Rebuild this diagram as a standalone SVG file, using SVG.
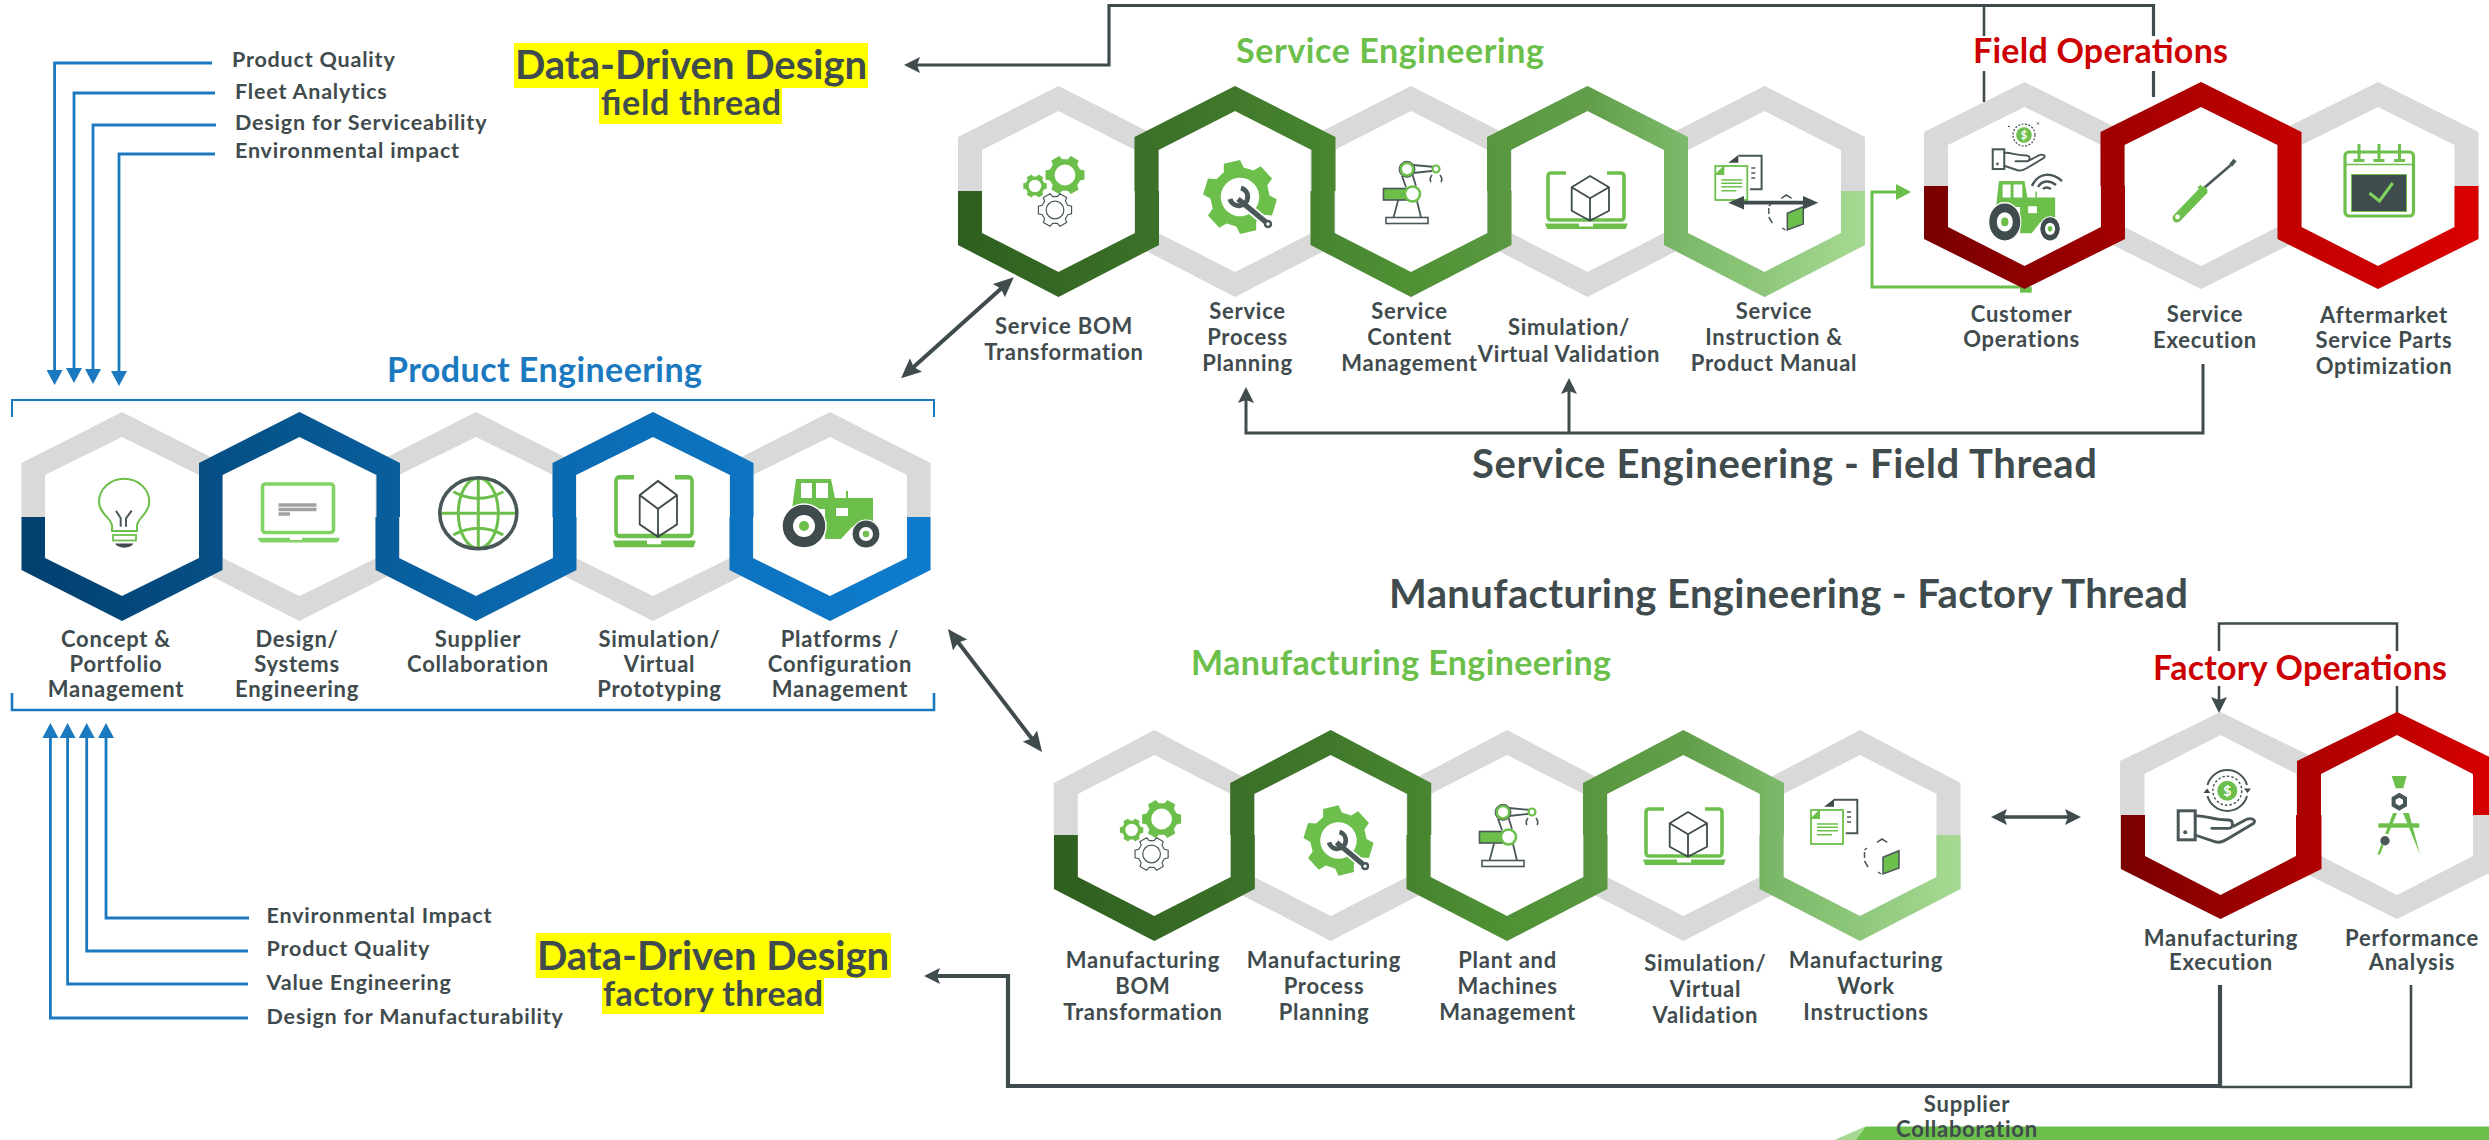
<svg xmlns="http://www.w3.org/2000/svg" width="2489" height="1140" viewBox="0 0 2489 1140">
<style>
text{font-family:"Lato","Liberation Sans",sans-serif;font-weight:700;fill:#3f4b4d}
.lb{font-size:22px;text-anchor:middle;letter-spacing:.75px}
.li{font-size:21.5px;letter-spacing:.8px}
.h2{font-size:34px}
.h1{font-size:40px}
.dd{font-size:40px;text-anchor:middle}
.ds{font-size:34px;text-anchor:middle}
.grey{fill:#d9d9d9;fill-rule:evenodd}
.dk{fill:none;stroke:#3f4b4d}
.blue{fill:none;stroke:#1b7abf}
.gl{fill:none;stroke:#6cbf4b}
.dl{fill:none;stroke:#4a5759}
.gf{fill:#6cbf4b}
.df{fill:#3f4b4d}
.wf{fill:#fff}
</style>
<defs>
<linearGradient id="gB" gradientUnits="userSpaceOnUse" x1="21" y1="0" x2="931" y2="0"><stop offset="0" stop-color="#023f6e"/><stop offset=".3" stop-color="#06568f"/><stop offset=".5" stop-color="#0a65a8"/><stop offset=".7" stop-color="#0b70bb"/><stop offset="1" stop-color="#0e7cce"/></linearGradient>
<linearGradient id="gS" gradientUnits="userSpaceOnUse" x1="958" y1="0" x2="1865" y2="0"><stop offset="0" stop-color="#2f5f20"/><stop offset=".3" stop-color="#40782b"/><stop offset=".5" stop-color="#4f9134"/><stop offset=".7" stop-color="#639f4b"/><stop offset=".8" stop-color="#7cb96a"/><stop offset="1" stop-color="#a6da92"/></linearGradient>
<linearGradient id="gM" gradientUnits="userSpaceOnUse" x1="1054" y1="0" x2="1960" y2="0"><stop offset="0" stop-color="#2f5f20"/><stop offset=".3" stop-color="#40782b"/><stop offset=".5" stop-color="#4f9134"/><stop offset=".7" stop-color="#639f4b"/><stop offset=".8" stop-color="#7cb96a"/><stop offset="1" stop-color="#a6da92"/></linearGradient>
<linearGradient id="gF" gradientUnits="userSpaceOnUse" x1="1925" y1="0" x2="2479" y2="0"><stop offset="0" stop-color="#790000"/><stop offset=".36" stop-color="#a30000"/><stop offset=".64" stop-color="#c00000"/><stop offset="1" stop-color="#da0000"/></linearGradient>
<linearGradient id="gO" gradientUnits="userSpaceOnUse" x1="2121" y1="0" x2="2497" y2="0"><stop offset="0" stop-color="#7a0000"/><stop offset=".53" stop-color="#b00000"/><stop offset="1" stop-color="#d80000"/></linearGradient>
<marker id="aD" markerUnits="userSpaceOnUse" markerWidth="18" markerHeight="18" refX="11" refY="8" orient="auto-start-reverse"><path d="M0 0L16 8L0 16L3 8z" fill="#3f4b4d"/></marker>
<marker id="aL" markerUnits="userSpaceOnUse" markerWidth="22" markerHeight="20" refX="14" refY="9" orient="auto-start-reverse"><path d="M0 0L20 9L0 18L3 9z" fill="#3f4b4d"/></marker>
<marker id="aB" markerUnits="userSpaceOnUse" markerWidth="16" markerHeight="16" refX="10" refY="8" orient="auto"><path d="M0 0L15 8L0 16z" fill="#1b7abf"/></marker>
<marker id="aG" markerUnits="userSpaceOnUse" markerWidth="16" markerHeight="16" refX="10" refY="8" orient="auto"><path d="M0 0L15 8L0 16z" fill="#6cbf4b"/></marker>
<path id="ringP" d="M0 412L100.5 463V570L0 621L-100.5 570V463ZM0 437L-77 475V558L0 596L77 558V475Z"/>
<path id="ringS" d="M0 86L100.5 137V245L0 297L-100.5 245V137ZM0 111L-76.5 150V233L0 272L76.5 233V150Z"/>
<path id="ringF" d="M0 82L100.5 132V239L0 289L-100.5 239V132ZM0 107L-76.5 145V227L0 266L76.5 227V145Z"/>
<path id="ringM" d="M0 730L100.5 783V889L0 941L-100.5 889V783ZM0 755L-76.5 794V877L0 916L76.5 877V794Z"/>
<path id="ringO" d="M0 712L100.5 761V869L0 919L-100.5 869V761ZM0 735L-76 774V856L0 895L76 856V774Z"/>
<path id="gearShape" d="M97.4-22.5L97.4 22.5L75.2 27.4L61.3 51.4L68.2 73.1L29.2 95.6L13.9 78.8H-13.9L-29.2 95.6L-68.2 73.1L-61.3 51.4L-75.2 27.4L-97.4 22.5V-22.5L-75.2-27.4L-61.3-51.4L-68.2-73.1L-29.2-95.6L-13.9-78.8H13.9L29.2-95.6L68.2-73.1L61.3-51.4L75.2-27.4ZM52 0A52 52 0 1 0-52 0A52 52 0 1 0 52 0Z" fill-rule="evenodd"/>
<g id="icGears">
<use href="#gearShape" class="gf" transform="translate(41 18) scale(.2)"/>
<use href="#gearShape" class="gf" transform="translate(11 29) scale(.12)"/>
<use href="#gearShape" fill="#fff" stroke="#4a5759" stroke-width="7" transform="translate(31 53) scale(.17)"/>
</g>
<g id="icWrench">
<use href="#gearShape" class="gf" transform="rotate(17) scale(.37)"/>
<path d="M-2 2L28 27" fill="none" stroke="#fff" stroke-width="9"/>
<path d="M-2 2L27 26" class="dl" stroke-width="5.5"/>
<path d="M1-9A9 9 0 1 1-10 2" class="dl" stroke-width="5"/>
<circle cx="28" cy="27" r="3" fill="#fff" stroke="#4a5759" stroke-width="2.5"/>
</g>
<g id="icRobot">
<rect x="11" y="67.5" width="42" height="6" fill="#fff" stroke="#4a5759" stroke-width="1.6"/>
<path d="M23.5 49L18.5 67.5M41.5 49L46 67.5M27 26L31 37M37 23L41 36M38 15L60 17M38 23L57 21" class="dl" stroke-width="1.8"/>
<rect x="8.5" y="38.5" width="29" height="11.5" class="gf" stroke="#4a5759" stroke-width="1.6"/>
<circle cx="37.5" cy="44" r="7.5" fill="#fff" stroke="#6cbf4b" stroke-width="2.6"/>
<circle cx="32" cy="19.3" r="6.5" fill="#fff" stroke="#6cbf4b" stroke-width="3"/>
<circle cx="32" cy="19.3" r="8" fill="none" stroke="#4a5759" stroke-width="1"/>
<circle cx="61" cy="19" r="3.5" fill="#fff" stroke="#6cbf4b" stroke-width="2.2"/>
<path d="M57 25Q54 29 56 32M65 25Q68 29 66 32" class="dl" stroke-width="1.6"/>
</g>
<g id="icLaptop">
<path d="M21 2H6A3 3 0 0 0 3 5V46A3 3 0 0 0 6 49H76A3 3 0 0 0 79 46V5A3 3 0 0 0 76 2H62" class="gl" stroke-width="3.6"/>
<path d="M0 52.5H34V55.5H48V52.5H82.7L80.7 58H2Z" class="gf"/>
<path d="M45 5L64 16.3V39.7L45 49.7L26.7 39.7V16.3ZM26.7 16.3L45 27.3L64 16.3M45 27.3V49.7" fill="none" stroke="#3f4b4d" stroke-width="1.8" stroke-linejoin="round"/>
</g>
<g id="icDocs">
<path d="M14 7.7L24 0V7.7Z" class="df"/>
<path d="M24 0.8H47.3V34.3H35.7" class="dl" stroke-width="2"/>
<path d="M37 13H41M37 18H41M37 23H41" class="dl" stroke-width="1.4"/>
<rect x="1" y="11" width="32" height="34" fill="#fff" stroke="#6cbf4b" stroke-width="1.8"/>
<path d="M0 20L10 10V20Z" class="gf"/>
<path d="M7 25H28M7 28.3H28M7 31.7H28M7 35.7H22" class="gl" stroke-width="1.5"/>
</g>
<g id="icBox">
<path d="M13 3.3L18 0L23.3 3.3M0.5 11L3 9M0.5 13V19M0.5 22L4 28M14 33L17 35" class="dl" stroke-width="1.5"/>
<path d="M19 18.3L35 11.7V29L19 35Z" class="gf" stroke="#4a5759" stroke-width="1.5"/>
</g>
<g id="icTractor">
<path d="M15 0H50L54 19H92V42L71 48L60 60H44V30H11Z" class="gf"/>
<path d="M66 19V12" class="gl" stroke-width="2"/>
<rect x="20" y="4" width="11" height="15" fill="#fff"/>
<rect x="35" y="4" width="12" height="15" fill="#fff"/>
<rect x="55" y="29" width="12" height="8" fill="#fff"/>
<circle cx="23" cy="47" r="22" fill="#3f4b4d" stroke="#fff" stroke-width="1.5"/>
<circle cx="23" cy="47" r="11" fill="#fff"/><circle cx="23" cy="47" r="5" class="gf"/>
<circle cx="85" cy="55" r="14" fill="#3f4b4d" stroke="#fff" stroke-width="1.2"/>
<circle cx="85" cy="55" r="7" fill="#fff"/><circle cx="85" cy="55" r="3.2" class="gf"/>
</g>
<g id="icHand">
<rect x="1.5" y="1.5" width="17" height="29" fill="none" stroke="#4a5759" stroke-width="3"/>
<circle cx="8.5" cy="23" r="2" fill="#4a5759"/>
<path d="M18.3 6.7C28 5.5 35 10.7 52 10.7C57 11 57 19 52 19H35M18.3 25.7L38 32.3C43 34 46.7 32.3 52 29L77 14C80 11 75 8 70 10L57 17" class="dl" stroke-width="2.8" stroke-linecap="round"/>
</g>
<filter id="soft" x="-5%" y="-5%" width="110%" height="110%"><feGaussianBlur stdDeviation=".6"/></filter>
</defs>

<rect width="2489" height="1140" fill="#fff"/>

<g id="supplier-bar">
<path d="M1835 1140L1866 1126.5H2489V1140Z" class="gf"/>
<path d="M1835 1140L1866 1126.5L1856 1140Z" fill="#a6da92"/>
</g>

<g id="grey-rings" class="grey">
<use href="#ringP" x="122"/><use href="#ringP" x="299.5"/><use href="#ringP" x="476"/><use href="#ringP" x="653"/><use href="#ringP" x="830"/>
<use href="#ringS" x="1058.5"/><use href="#ringS" x="1235"/><use href="#ringS" x="1411"/><use href="#ringS" x="1587.5"/><use href="#ringS" x="1764.5"/>
<use href="#ringF" x="2024.5"/><use href="#ringF" x="2201"/><use href="#ringF" x="2378"/>
<use href="#ringM" x="1154.3"/><use href="#ringM" x="1330.7"/><use href="#ringM" x="1507"/><use href="#ringM" x="1683.4"/><use href="#ringM" x="1860"/>
<use href="#ringO" x="2220.5"/><use href="#ringO" x="2397"/>
</g>

<g id="connectors" stroke-width="3">
<g id="blue-top" stroke-width="2.8">
<path class="blue" d="M212 63H54.6V380" marker-end="url(#aB)"/>
<path class="blue" d="M215 93H74V378" marker-end="url(#aB)"/>
<path class="blue" d="M216 125H93V379" marker-end="url(#aB)"/>
<path class="blue" d="M215 154H119V381" marker-end="url(#aB)"/>
</g>
<g id="blue-bottom" stroke-width="2.8">
<path class="blue" d="M249 918H106V728" marker-end="url(#aB)"/>
<path class="blue" d="M248 951H86.7V728" marker-end="url(#aB)"/>
<path class="blue" d="M248 984H67.6V728" marker-end="url(#aB)"/>
<path class="blue" d="M248 1018H50.4V728" marker-end="url(#aB)"/>
</g>
<path id="bracket-top" class="blue" stroke-width="2" d="M12 417V400H934V417"/>
<path id="bracket-bottom" class="blue" stroke-width="2.6" d="M12 693V710H934V693"/>
<path class="dk" stroke-width="3.2" d="M2153.5 97V71M2153.5 36V5.5H1109V65H909" marker-end="url(#aD)"/>
<path d="M1984 5V36M1984 71V102" class="dk" stroke-width="2.6"/>
<path id="arrow-svc" d="M905.5 374.3L1009.3 281.3" class="dk" stroke-width="4" marker-start="url(#aL)" marker-end="url(#aL)"/>
<path id="arrow-mfg" d="M951.6 633.8L1038.4 747.2" class="dk" stroke-width="4" marker-start="url(#aL)" marker-end="url(#aL)"/>
<path id="arrow-fact" d="M1996 817H2076" class="dk" stroke-width="3.6" marker-start="url(#aD)" marker-end="url(#aD)"/>
<path d="M2024.5 287H1872V192H1906" class="gl" stroke-width="3" marker-end="url(#aG)"/>
<rect x="2020" y="286.7" width="11.7" height="6" class="gf"/>
<path d="M2203 364V433H1246V392" class="dk" marker-end="url(#aD)"/>
<path d="M1569 433V383" class="dk" marker-end="url(#aD)"/>
<path d="M2397 717V686M2397 651V623.5H2219V651M2219 686V708" class="dk" stroke-width="2.6" marker-end="url(#aD)"/>
<path d="M2220 985V1086H1008V976H929" class="dk" stroke-width="4.2" marker-end="url(#aD)"/>
<path d="M2220 1087H2411V985" class="dk" stroke-width="2.6"/>
</g>

<g id="node-concept"><path fill="url(#gB)" d="M21.5 517V570L122 621L222.5 570V517H199V558L122 596L45 558V517Z"/>
<g id="ic1"><path d="M112 531V526C112 518 99 514 99 501.7A25 22.7 0 0 1 149.3 501.7C149.3 514 137 518 137 526V531Z" class="gl" stroke-width="2"/><rect x="113" y="535" width="23" height="5.5" class="gl" stroke-width="1.8"/><path d="M115 543.5H133.3C131 549 118 549 115 543.5Z" class="df"/><path d="M116 510.7L120.7 518.3V526.7M131.7 510.7L126 518.3V526.7" class="dl" stroke-width="2"/></g>
<text class="lb"><tspan x="116" y="647">Concept &amp;</tspan><tspan x="116" y="672">Portfolio</tspan><tspan x="116" y="697">Management</tspan></text></g>

<g id="node-design"><path fill="url(#gB)" d="M199 517V463L299.5 412L400 463V517H376.5V475L299.5 437L222.5 475V517Z"/>
<g id="ic2" filter="url(#soft)"><rect x="262.5" y="484" width="71" height="48.5" rx="3" fill="none" stroke="#82d366" stroke-width="3.6"/><path d="M258.3 537.7H290V540H302V537.7H339.3V540L337 542.5H261L258.3 540Z" fill="#82d366"/><path d="M278.5 505H316.5M278.5 509.5H316.5M278.5 514H290" stroke="#a2a2a2" stroke-width="3.5" fill="none"/></g>
<text class="lb"><tspan x="297" y="647">Design/</tspan><tspan x="297" y="672">Systems</tspan><tspan x="297" y="697">Engineering</tspan></text></g>

<g id="node-supplier"><path fill="url(#gB)" d="M375.5 517V570L476 621L576.5 570V517H553V558L476 596L399 558V517Z"/>
<g id="ic3"><ellipse cx="478.3" cy="513.3" rx="20" ry="35" class="gl" stroke-width="3"/><path d="M478.3 478V549M440 513.3H517M453.3 491.7Q478.3 505 503.3 491.7M453.3 535Q478.3 521.7 503.3 535" class="gl" stroke-width="3"/><ellipse cx="478.3" cy="513.3" rx="38.5" ry="35.5" class="dl" stroke-width="3.6"/></g>
<text class="lb"><tspan x="478" y="647">Supplier</tspan><tspan x="478" y="672">Collaboration</tspan></text></g>

<g id="node-simulation"><path fill="url(#gB)" d="M552.5 517V463L653 412L753.5 463V517H730V475L653 437L576 475V517Z"/>
<use href="#icLaptop" transform="translate(613 474.75) scale(1 1.25)"/>
<text class="lb"><tspan x="659.5" y="647">Simulation/</tspan><tspan x="659.5" y="672">Virtual</tspan><tspan x="659.5" y="697">Prototyping</tspan></text></g>

<g id="node-platforms"><path fill="url(#gB)" d="M729.5 517V570L830 621L930.5 570V517H907V558L830 596L753 558V517Z"/>
<use href="#icTractor" transform="translate(781 479)"/>
<text class="lb"><tspan x="840" y="647">Platforms /</tspan><tspan x="840" y="672">Configuration</tspan><tspan x="840" y="697">Management</tspan></text></g>

<g id="node-service-bom"><path fill="url(#gS)" d="M958 191V245L1058.5 297L1159 245V191H1135V233L1058.5 272L982 233V191Z"/>
<use href="#icGears" transform="translate(1024 157)"/>
<text class="lb"><tspan x="1064" y="334">Service BOM</tspan><tspan x="1064" y="360">Transformation</tspan></text></g>

<g id="node-service-process"><path fill="url(#gS)" d="M1134.5 191V137L1235 86L1335.5 137V191H1311.5V150L1235 111L1158.5 150V191Z"/>
<use href="#icWrench" transform="translate(1240 197)"/>
<text class="lb"><tspan x="1247.5" y="319">Service</tspan><tspan x="1247.5" y="345">Process</tspan><tspan x="1247.5" y="371">Planning</tspan></text></g>

<g id="node-service-content"><path fill="url(#gS)" d="M1310.5 191V245L1411 297L1511.5 245V191H1487.5V233L1411 272L1334.5 233V191Z"/>
<use href="#icRobot" transform="translate(1375 150)"/>
<text class="lb"><tspan x="1409.5" y="319">Service</tspan><tspan x="1409.5" y="345">Content</tspan><tspan x="1409.5" y="371">Management</tspan></text></g>

<g id="node-service-sim"><path fill="url(#gS)" d="M1487 191V137L1587.5 86L1688 137V191H1664V150L1587.5 111L1511 150V191Z"/>
<use href="#icLaptop" transform="translate(1545 171)"/>
<text class="lb"><tspan x="1569" y="335">Simulation/</tspan><tspan x="1569" y="362">Virtual Validation</tspan></text></g>

<g id="node-service-instruction"><path fill="url(#gS)" d="M1664 191V245L1764.5 297L1865 245V191H1841V233L1764.5 272L1688 233V191Z"/>
<use href="#icDocs" transform="translate(1714.3 155)"/>
<use href="#icBox" transform="translate(1768.3 195)"/>
<path d="M1728.3 202.7L1744 196V200.8H1803V196L1818.3 202.7L1803 209.5V204.6H1744V209.5Z" class="df"/>
<text class="lb"><tspan x="1774" y="319">Service</tspan><tspan x="1774" y="345">Instruction &amp;</tspan><tspan x="1774" y="371">Product Manual</tspan></text></g>

<g id="node-customer"><path fill="url(#gF)" d="M1924 186V239L2024.5 289L2125 239V186H2101V227L2024.5 266L1948 227V186Z"/>
<g id="ic-customer"><circle cx="2024" cy="135" r="7.8" class="gf"/><circle cx="2024" cy="135" r="11" fill="none" stroke="#3f4b4d" stroke-width="1.2" stroke-dasharray="2 1.5"/><text x="2024" y="139" font-size="11" text-anchor="middle" style="fill:#fff">$</text>
<path d="M2008 126.5H2010M2037 122.5L2039 124.5M2039 122.5L2037 124.5" class="dl" stroke-width="1"/>
<use href="#icHand" transform="translate(1991.7 148.3) scale(.68)"/>
<use href="#icTractor" transform="translate(1988 181) scale(.73 .87)"/>
<path d="M2032 186C2038 172 2052 172 2062 181M2038 187C2042 180 2050 180 2056 185M2043 189C2045 187 2048 187 2051 189" class="dl" stroke-width="2.4"/></g>
<text class="lb"><tspan x="2021.6" y="322">Customer</tspan><tspan x="2021.6" y="347">Operations</tspan></text></g>

<g id="node-execution"><path fill="url(#gF)" d="M2100.5 186V132L2201 82L2301.5 132V186H2277.5V145L2201 107L2124.5 145V186Z"/>
<g id="ic-screw"><path d="M2204 188L2232 164" class="dl" stroke-width="2.6"/><path d="M2231 165L2235 160" class="dl" stroke-width="4"/><path d="M2177 218L2203 191" class="gl" stroke-width="9" stroke-linecap="round"/><path d="M2199 186L2206 194" class="gl" stroke-width="4"/><circle cx="2177.5" cy="217" r="2.4" fill="#fff"/></g>
<text class="lb"><tspan x="2205" y="322">Service</tspan><tspan x="2205" y="348">Execution</tspan></text></g>

<g id="node-aftermarket"><path fill="url(#gF)" d="M2277.5 186V239L2378 289L2478.5 239V186H2454.5V227L2378 266L2301.5 227V186Z"/>
<g id="ic-cal"><rect x="2345" y="152" width="68.5" height="64" rx="4" class="gl" stroke-width="3.2"/><path d="M2345 164.5H2413.5" class="gl" stroke-width="1.5"/><path d="M2359 144V160M2379 144V160M2399.5 144V160" class="gl" stroke-width="3"/><path d="M2353.5 160.5H2364.5M2373.5 160.5H2384.5M2394 160.5H2405" class="gl" stroke-width="3"/><rect x="2351.5" y="174.5" width="55" height="37" class="df" stroke="#6cbf4b" stroke-width="1"/><path d="M2369.4 193L2379.5 201L2392.7 183" fill="none" stroke="#7fd35f" stroke-width="3"/></g>
<text class="lb"><tspan x="2384" y="323">Aftermarket</tspan><tspan x="2384" y="348">Service Parts</tspan><tspan x="2384" y="374">Optimization</tspan></text></g>

<g id="node-mfg-bom"><path fill="url(#gM)" d="M1054 835V889L1154.3 941L1254.8 889V835H1230.8V877L1154.3 916L1077.8 877V835Z"/>
<use href="#icGears" transform="translate(1120.6 801)"/>
<text class="lb"><tspan x="1143" y="968">Manufacturing</tspan><tspan x="1143" y="994">BOM</tspan><tspan x="1143" y="1020">Transformation</tspan></text></g>

<g id="node-mfg-process"><path fill="url(#gM)" d="M1230.2 835V783L1330.7 730L1431.2 783V835H1407.2V794L1330.7 755L1254.2 794V835Z"/>
<use href="#icWrench" transform="translate(1338.5 840.5) scale(.95)"/>
<text class="lb"><tspan x="1324" y="968">Manufacturing</tspan><tspan x="1324" y="994">Process</tspan><tspan x="1324" y="1020">Planning</tspan></text></g>

<g id="node-mfg-plant"><path fill="url(#gM)" d="M1406.5 835V889L1507 941L1607.5 889V835H1583.5V877L1507 916L1430.5 877V835Z"/>
<use href="#icRobot" transform="translate(1471 793)"/>
<text class="lb"><tspan x="1507.6" y="968">Plant and</tspan><tspan x="1507.6" y="994">Machines</tspan><tspan x="1507.6" y="1020">Management</tspan></text></g>

<g id="node-mfg-sim"><path fill="url(#gM)" d="M1583 835V783L1683.4 730L1784 783V835H1760V794L1683.4 755L1607 794V835Z"/>
<use href="#icLaptop" transform="translate(1643 807)"/>
<text class="lb"><tspan x="1705.4" y="971">Simulation/</tspan><tspan x="1705.4" y="997">Virtual</tspan><tspan x="1705.4" y="1023">Validation</tspan></text></g>

<g id="node-mfg-work"><path fill="url(#gM)" d="M1759.5 835V889L1860 941L1960.5 889V835H1936.5V877L1860 916L1783.5 877V835Z"/>
<use href="#icDocs" transform="translate(1810 799)"/>
<use href="#icBox" transform="translate(1864 839)"/>
<text class="lb"><tspan x="1866" y="968">Manufacturing</tspan><tspan x="1866" y="994">Work</tspan><tspan x="1866" y="1020">Instructions</tspan></text></g>

<g id="node-fact-exec"><path fill="url(#gO)" d="M2121 815V869L2220.5 919L2321.5 869V815H2296V856L2220.5 895L2145 856V815Z"/>
<g id="ic-coin"><use href="#icHand" transform="translate(2176.7 809.3)"/><circle cx="2227.3" cy="790.7" r="10" class="gf"/><circle cx="2227.3" cy="790.7" r="14.5" fill="none" stroke="#4a5759" stroke-width="1.4" stroke-dasharray="2.5 2"/><path d="M2207.5 785A20.5 20.5 0 0 1 2247 785M2247 796A20.5 20.5 0 0 1 2207.5 796" class="dl" stroke-width="2"/><path d="M2207 788.5L2203.5 793H2210.5ZM2247.5 793L2244 788.5H2251Z" class="df"/><text x="2227.3" y="796" font-size="14" text-anchor="middle" style="fill:#fff">$</text></g>
<text class="lb"><tspan x="2221" y="945.5">Manufacturing</tspan><tspan x="2221" y="970">Execution</tspan></text></g>

<g id="node-fact-perf"><path fill="url(#gO)" d="M2297 815V761L2397 712L2497.5 761V815H2473V774L2397 735L2321 774V815Z"/>
<g id="ic-compass"><path d="M2391.7 776H2406.7L2403.3 788.3H2395.7Z" class="gf"/><path d="M2393 813L2397 813L2380 854.5H2377.5Z" class="gf"/><path d="M2403 813H2409L2420 854.5Z" class="gf"/><rect x="2378.3" y="823.3" width="41" height="4.4" class="gf"/><path d="M2399.3 792.7L2407 797.2V806.2L2399.3 810.7L2391.6 806.2V797.2ZM2399.3 797.7L2395.6 799.8V803.6L2399.3 805.7L2403 803.6V799.8Z" fill="#4a5759" fill-rule="evenodd"/><path d="M2383 834H2388L2390.5 840.7L2388 845.5H2383L2380 840.7Z" fill="#fff"/><circle cx="2385" cy="840.7" r="4.7" fill="#4a5759"/></g>
<text class="lb"><tspan x="2412" y="945.5">Performance</tspan><tspan x="2412" y="970">Analysis</tspan></text></g>

<g id="labels">
<text class="li" x="232" y="66.7">Product Quality</text>
<text class="li" x="235" y="99">Fleet Analytics</text>
<text class="li" x="235" y="130">Design for Serviceability</text>
<text class="li" x="235" y="157.7">Environmental impact</text>
<text class="li" x="266.6" y="923">Environmental Impact</text>
<text class="li" x="266.6" y="956">Product Quality</text>
<text class="li" x="266.6" y="990">Value Engineering</text>
<text class="li" x="266.6" y="1024">Design for Manufacturability</text>
<rect x="514" y="43" width="354" height="45" fill="#ff0"/><rect x="599" y="88" width="183" height="36" fill="#ff0"/>
<text class="dd" x="691" y="79">Data-Driven Design</text>
<text class="ds" x="691" y="115" textLength="180">field thread</text>
<rect x="535.7" y="933" width="355.3" height="45" fill="#ff0"/><rect x="602" y="978" width="222" height="36" fill="#ff0"/>
<text class="dd" x="713" y="970">Data-Driven Design</text>
<text class="ds" x="713" y="1006" textLength="220">factory thread</text>
<text class="h2" x="387" y="381.7" textLength="315" style="fill:#1b7abf">Product Engineering</text>
<text class="h2" x="1236" y="63" textLength="308" style="fill:#6cbf4b">Service Engineering</text>
<text class="h2" x="1973" y="63" textLength="255" style="fill:#cc0000">Field Operations</text>
<text class="h2" x="1191" y="675" textLength="420" style="fill:#6cbf4b">Manufacturing Engineering</text>
<text class="h2" x="2153" y="680" textLength="294" style="fill:#cc0000">Factory Operations</text>
<text class="h1" x="1472" y="478" textLength="625">Service Engineering - Field Thread</text>
<text class="h1" x="1389" y="608" textLength="799">Manufacturing Engineering - Factory Thread</text>
<text class="lb" id="label-supplier"><tspan x="1967" y="1112">Supplier</tspan><tspan x="1967" y="1137">Collaboration</tspan></text>
</g>
</svg>
